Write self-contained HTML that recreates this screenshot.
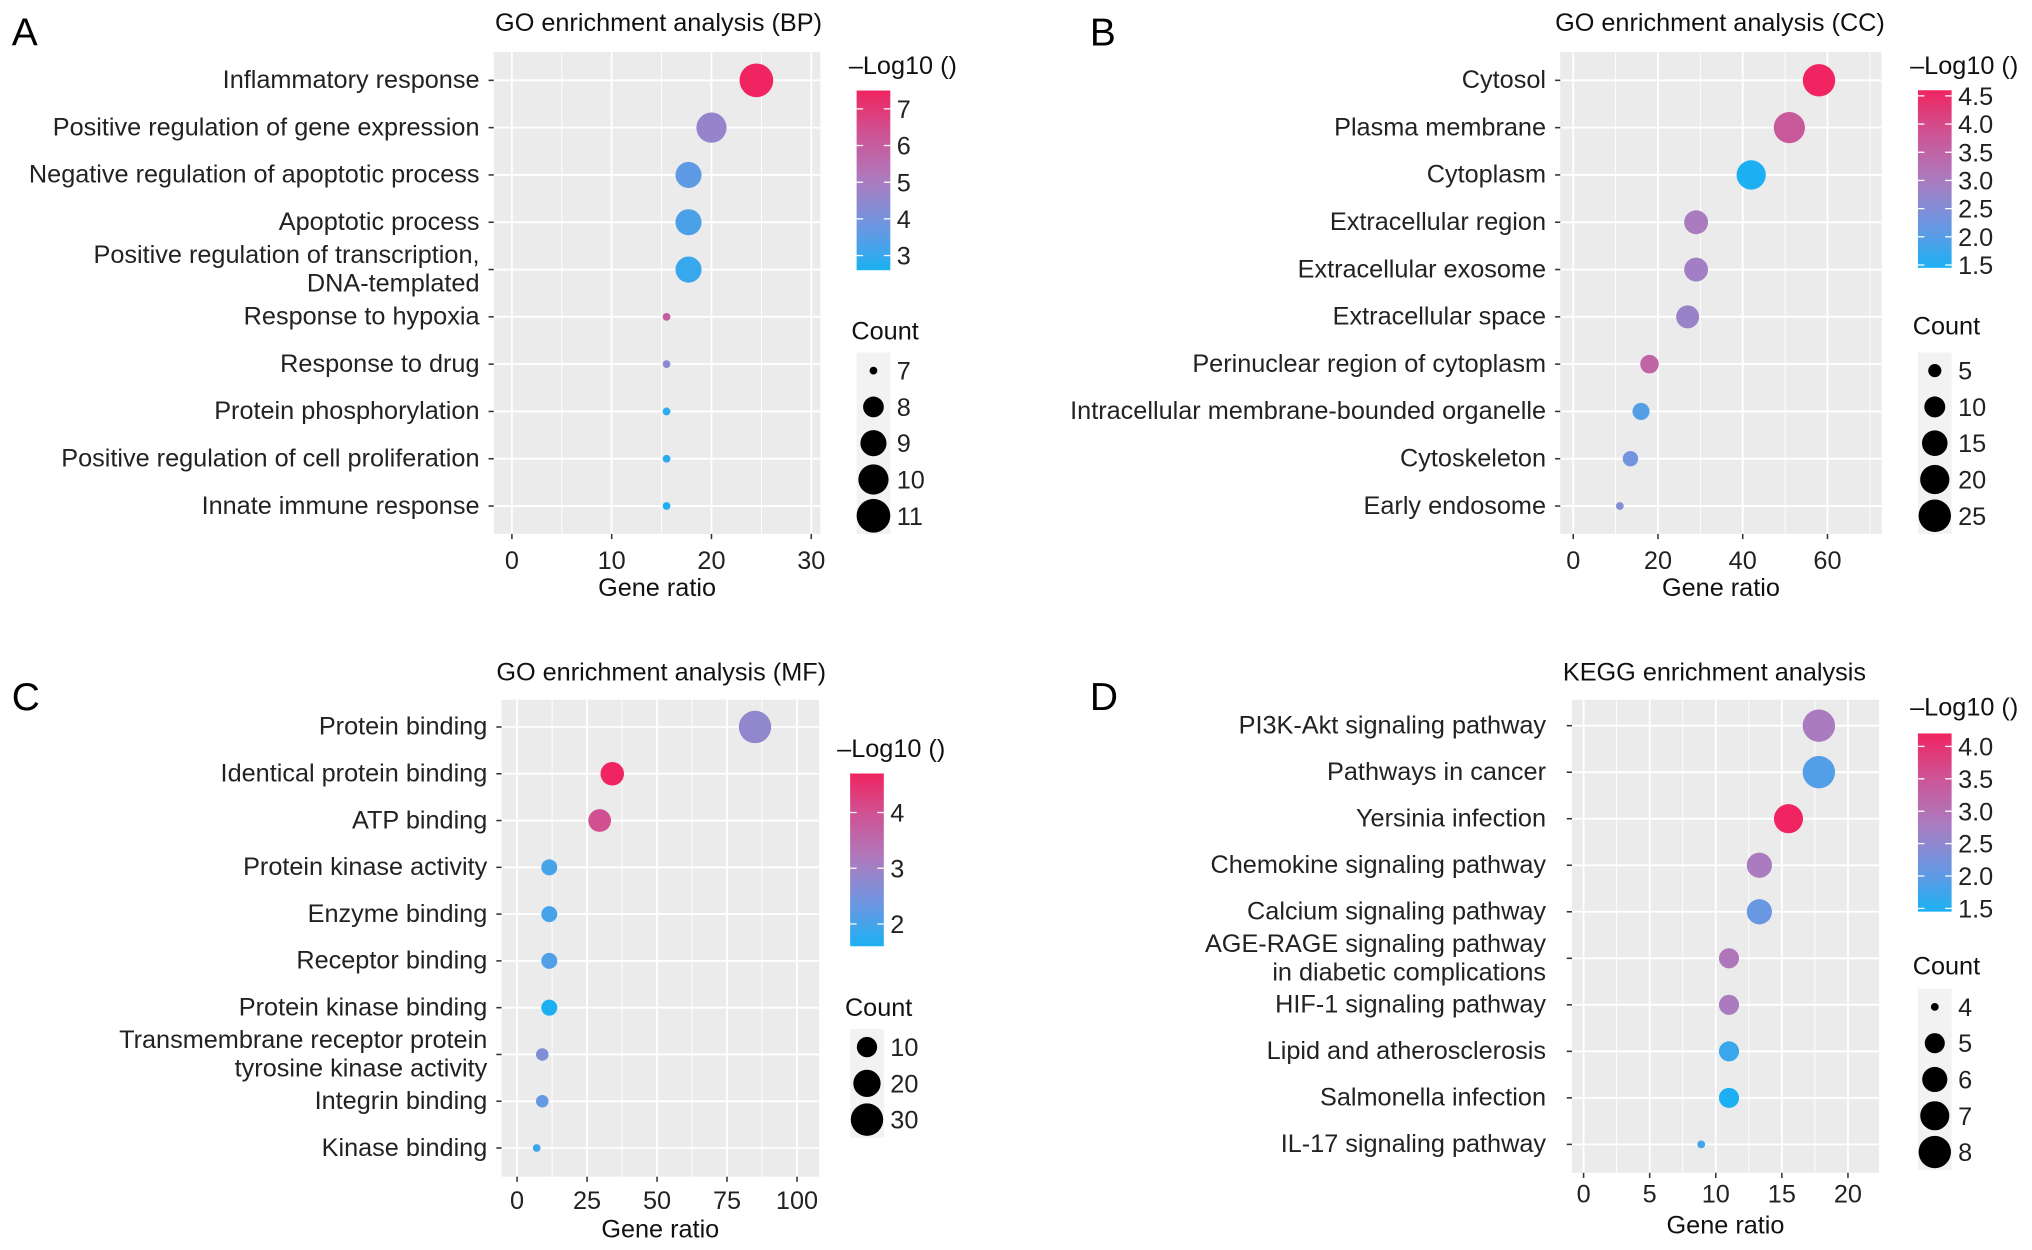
<!DOCTYPE html>
<html><head><meta charset="utf-8"><style>
html,body{margin:0;padding:0;background:#fff;}
svg{display:block;font-family:"Liberation Sans",Arial,sans-serif;}
</style></head><body>
<svg id="fig" width="2032" height="1250" viewBox="0 0 1568 964.6"></svg>
<script>
// ---- Panel A (BP) ----
const aTerms = ["Inflammatory response","Positive regulation of gene expression","Negative regulation of apoptotic process","Apoptotic process","Positive regulation of transcription,|DNA-templated","Response to hypoxia","Response to drug","Protein phosphorylation","Positive regulation of cell proliferation","Innate immune response"];
const aRatio = [24.5,20,17.7,17.7,17.7,15.5,15.5,15.5,15.5,15.5];
const aLog = [7.5,4.6,3.6,3.3,3.0,6.0,4.4,2.9,2.8,2.6];
const aCount = [11,10,9,9,9,7,7,7,7,7];
const aXTicks = [0,10,20,30];
const aColorTicks = [3,4,5,6,7];
const aSizeTicks = [7,8,9,10,11];
// ---- Panel B (CC) ----
const bTerms = ["Cytosol","Plasma membrane","Cytoplasm","Extracellular region","Extracellular exosome","Extracellular space","Perinuclear region of cytoplasm","Intracellular membrane-bounded organelle","Cytoskeleton","Early endosome"];
const bRatio = [58,51,42,29,29,27,18,16,13.5,11];
const bLog = [4.6,3.7,1.45,3.0,2.9,2.8,3.5,2.0,2.3,2.5];
const bCount = [25,23,20,13,13,12,8,7,6,4];
const bXTicks = [0,20,40,60];
const bColorTicks = [1.5,2.0,2.5,3.0,3.5,4.0,4.5];
const bSizeTicks = [5,10,15,20,25];
// ---- Panel C (MF) ----
const cTerms = ["Protein binding","Identical protein binding","ATP binding","Protein kinase activity","Enzyme binding","Receptor binding","Protein kinase binding","Transmembrane receptor protein|tyrosine kinase activity","Integrin binding","Kinase binding"];
const cRatio = [85,34,29.5,11.5,11.5,11.5,11.5,9,9,7];
const cLog = [2.8,4.7,4.0,2.0,2.0,2.1,1.6,2.6,2.3,1.9];
const cCount = [30,14,13,6,6,6,6,4,4,3];
const cXTicks = [0,25,50,75,100];
const cColorTicks = [2,3,4];
const cSizeTicks = [10,20,30];
// ---- Panel D (KEGG) ----
const dTerms = ["PI3K-Akt signaling pathway","Pathways in cancer","Yersinia infection","Chemokine signaling pathway","Calcium signaling pathway","AGE-RAGE signaling pathway|in diabetic complications","HIF-1 signaling pathway","Lipid and atherosclerosis","Salmonella infection","IL-17 signaling pathway"];
const dRatio = [17.8,17.8,15.5,13.3,13.3,11,11,11,11,8.9];
const dLog = [2.8,1.9,4.2,2.8,2.1,2.9,2.8,1.7,1.45,1.75];
const dCount = [8,8,7,6,6,5,5,5,5,4];
const dXTicks = [0,5,10,15,20];
const dColorTicks = [1.5,2.0,2.5,3.0,3.5,4.0];
const dSizeTicks = [4,5,6,7,8];

const NS="http://www.w3.org/2000/svg";
const svg=document.getElementById('fig');
const FS=19.5;
function mk(tag,attrs,parent,text){const e=document.createElementNS(NS,tag);for(const k in attrs)e.setAttribute(k,attrs[k]);if(text!==undefined)e.textContent=text;(parent||svg).appendChild(e);return e;}
const STOPS=[[0,[28,176,242]],[0.25,[110,150,225]],[0.5,[172,122,190]],[0.75,[205,85,150]],[1,[240,36,96]]];
function col(t){t=Math.max(0,Math.min(1,t));let i=0;while(i<STOPS.length-2&&t>STOPS[i+1][0])i++;
  const [t0,c0]=STOPS[i],[t1,c1]=STOPS[i+1];const u=(t-t0)/(t1-t0);
  const c=c0.map((l,k)=>Math.round(l+(c1[k]-l)*u));return `rgb(${c[0]},${c[1]},${c[2]})`;}

function panel(cfg){
  const g=mk('g',{});
  
  
  const L=cfg.left,R=cfg.right,T=cfg.top,B=cfg.bottom;
  const xs=v=>cfg.x0+v*cfg.xk;
  const ys=i=>cfg.row0+i*cfg.rowStep;
  const lt=mk('text',{x:cfg.letterX,y:cfg.letterY,'font-size':30,fill:'#000'},g,cfg.letter);
  
  
  const tt=mk('text',{x:cfg.titleX,y:cfg.titleY,'font-size':FS,fill:'#111'},g,cfg.title);
  
  
  const bg=mk('rect',{x:L,y:T,width:R-L,height:B-T,fill:'#ebebeb'},g);
  
  
  for(let k=0;k<cfg.xTicks.length+1;k++){
    const step=cfg.xTicks[1]-cfg.xTicks[0];
    const v=cfg.xTicks[0]+step*(k-0.5);
    const x=xs(v); if(x>L&&x<R) mk('line',{x1:x,x2:x,y1:T,y2:B,stroke:'#fff','stroke-width':0.7},g);
  }
  cfg.xTicks.forEach(v=>{const x=xs(v);
    mk('line',{x1:x,x2:x,y1:T,y2:B,stroke:'#fff','stroke-width':1.4},g);
    mk('line',{x1:x,x2:x,y1:B,y2:B+4,stroke:'#333','stroke-width':1.2},g);
    const tl=mk('text',{x:x,y:cfg.tickY,'font-size':FS,fill:'#222','text-anchor':'middle'},g,String(v));
    
    
  });
  const at=mk('text',{x:(L+R)/2,y:cfg.axisTitleY,'font-size':FS,fill:'#111','text-anchor':'middle'},g,'Gene ratio');
  
  
  const n=cfg.terms.length;
  const cmin=Math.min(...cfg.log),cmax=Math.max(...cfg.log);
  const smin=Math.min(...cfg.count),smax=Math.max(...cfg.count);
  const rad=s=>cfg.rmin+(cfg.rmax-cfg.rmin)*Math.sqrt(Math.max(0,(s-smin)/(smax-smin||1)));
  for(let i=0;i<n;i++){
    const y=ys(i);
    mk('line',{x1:L,x2:R,y1:y,y2:y,stroke:'#fff','stroke-width':1.4},g);
    mk('line',{x1:L-4,x2:L,y1:y,y2:y,stroke:'#333','stroke-width':1.2},g);
    const parts=cfg.terms[i].split('|');
    const lab=mk('text',{'font-size':FS,fill:'#222','text-anchor':'end'},g);
    
    
    if(parts.length===1){mk('tspan',{x:cfg.labelX,y:y+6},lab,parts[0]);}
    else{mk('tspan',{x:cfg.labelX,y:y-5},lab,parts[0]);mk('tspan',{x:cfg.labelX,y:y+17},lab,parts[1]);}
  }
  for(let i=0;i<n;i++){
    const c=mk('circle',{cx:xs(cfg.ratio[i]),cy:ys(i),r:rad(cfg.count[i]),fill:col((cfg.log[i]-cmin)/(cmax-cmin))},g);
    
    
  }
  const cy=v=>cfg.cTop+(cfg.cTopVal-v)*cfg.cK;
  const lg=mk('text',{x:cfg.legX,y:cfg.legTitleY,'font-size':FS,fill:'#111'},g,'\u2013Log10 ()');
  
  
  const gid='grad'+cfg.id;
  const defs=mk('defs',{},g);
  const lgd=mk('linearGradient',{id:gid,x1:0,y1:1,x2:0,y2:0},defs);
  for(let k=0;k<=20;k++) mk('stop',{offset:k/20,'stop-color':col(k/20)},lgd);
  const y1=cy(cmax),y2=cy(cmin);
  const bar=mk('rect',{x:cfg.barX,y:y1,width:26,height:y2-y1,fill:`url(#${gid})`},g);
  
  
  cfg.colorTicks.forEach(v=>{const y=cy(v);
    mk('line',{x1:cfg.barX,x2:cfg.barX+5,y1:y,y2:y,stroke:'#fff','stroke-width':1},g);
    mk('line',{x1:cfg.barX+21,x2:cfg.barX+26,y1:y,y2:y,stroke:'#fff','stroke-width':1},g);
    const t=mk('text',{x:cfg.barX+31,y:y+7,'font-size':FS,fill:'#222'},g,cfg.colorFmt(v));
    
    
  });
  const st=mk('text',{x:cfg.barX-4,y:cfg.countTitleY,'font-size':FS,fill:'#111'},g,'Count');
  
  
  const m=cfg.sizeTicks.length;
  mk('rect',{x:cfg.barX,y:cfg.size0-14,width:26,height:(m-1)*cfg.sizeStep+28,fill:'#f2f2f2'},g);
  cfg.sizeTicks.forEach((s,k)=>{const y=cfg.size0+k*cfg.sizeStep;
    const c=mk('circle',{cx:cfg.barX+13,cy:y,r:rad(s),fill:'#000'},g);
    
    
    const t=mk('text',{x:cfg.barX+31,y:y+7,'font-size':FS,fill:'#222'},g,String(s));
    
    
  });
}
const f0=v=>String(v),f1=v=>v.toFixed(1);
panel({id:'a',letter:'A',letterX:9,letterY:35,title:'GO enrichment analysis (BP)',titleX:382,titleY:24,
  left:381,right:633,top:40,bottom:412,x0:395,xk:7.7,row0:62,rowStep:36.5,labelX:370,tickY:439,axisTitleY:460,
  terms:aTerms,ratio:aRatio,log:aLog,count:aCount,xTicks:aXTicks,rmin:3,rmax:13,
  legX:655,legTitleY:57,barX:661,cTop:84,cTopVal:7,cK:28.3,colorTicks:aColorTicks,colorFmt:f0,
  countTitleY:262,size0:286,sizeStep:28,sizeTicks:aSizeTicks});
panel({id:'b',letter:'B',letterX:841,letterY:35,title:'GO enrichment analysis (CC)',titleX:1200,titleY:24,
  left:1204,right:1452,top:40,bottom:412,x0:1214,xk:3.27,row0:62,rowStep:36.5,labelX:1193,tickY:439,axisTitleY:460,
  terms:bTerms,ratio:bRatio,log:bLog,count:bCount,xTicks:bXTicks,rmin:3,rmax:12.5,
  legX:1474,legTitleY:57,barX:1480,cTop:74,cTopVal:4.5,cK:43.5,colorTicks:bColorTicks,colorFmt:f1,
  countTitleY:258,size0:286,sizeStep:28,sizeTicks:bSizeTicks});
panel({id:'c',letter:'C',letterX:9,letterY:548,title:'GO enrichment analysis (MF)',titleX:383,titleY:525,
  left:387,right:632,top:540,bottom:908,x0:399,xk:2.16,row0:561,rowStep:36.1,labelX:376,tickY:933,axisTitleY:955,
  terms:cTerms,ratio:cRatio,log:cLog,count:cCount,xTicks:cXTicks,rmin:3,rmax:12.5,
  legX:646,legTitleY:584,barX:656,cTop:627,cTopVal:4,cK:43,colorTicks:cColorTicks,colorFmt:f0,
  countTitleY:784,size0:808,sizeStep:28,sizeTicks:cSizeTicks});
panel({id:'d',letter:'D',letterX:841,letterY:548,title:'KEGG enrichment analysis',titleX:1206,titleY:525,
  left:1213,right:1450,top:540,bottom:905,x0:1222,xk:10.2,row0:560,rowStep:35.9,labelX:1193,tickY:928,axisTitleY:952,
  terms:dTerms,ratio:dRatio,log:dLog,count:dCount,xTicks:dXTicks,rmin:3,rmax:12.5,
  legX:1474,legTitleY:552,barX:1480,cTop:576,cTopVal:4,cK:50,colorTicks:dColorTicks,colorFmt:f1,
  countTitleY:752,size0:777,sizeStep:28,sizeTicks:dSizeTicks});
</script>
</body></html>
